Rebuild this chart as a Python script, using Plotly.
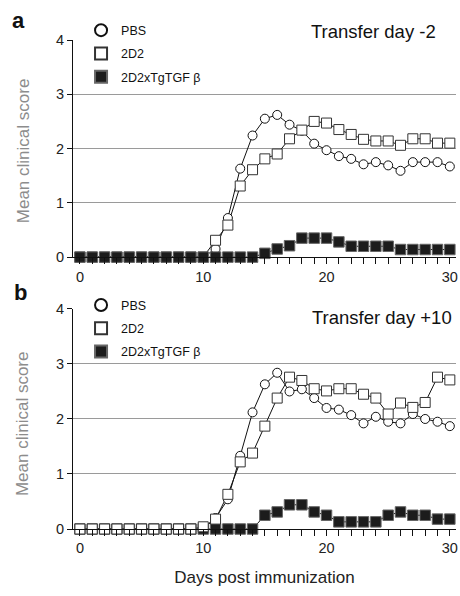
import plotly.graph_objects as go

days = list(range(0, 31))

# Panel a: Transfer day -2
a_pbs = [0]*11 + [0.15, 0.72, 1.63, 2.24, 2.55, 2.62, 2.44, 2.33, 2.09, 1.97,
                  1.86, 1.81, 1.71, 1.75, 1.69, 1.59, 1.75, 1.75, 1.75, 1.67]
a_2d2 = [0]*11 + [0.31, 0.59, 1.31, 1.61, 1.81, 1.90, 2.18, 2.34, 2.50, 2.47,
                  2.35, 2.26, 2.17, 2.14, 2.14, 2.06, 2.18, 2.18, 2.10, 2.10]
a_tg = [0]*15 + [0.07, 0.15, 0.21, 0.35, 0.35, 0.35, 0.28, 0.20, 0.20, 0.20,
                 0.20, 0.14, 0.14, 0.14, 0.14, 0.14]

# Panel b: Transfer day +10
b_pbs = [0]*11 + [0.20, 0.54, 1.33, 2.12, 2.63, 2.84, 2.50, 2.54, 2.38, 2.20,
                  2.17, 2.07, 1.92, 2.04, 1.95, 1.92, 2.09, 2.00, 1.95, 1.87]
b_2d2 = [0]*10 + [0.04, 0.18, 0.63, 1.22, 1.38, 1.87, 2.38, 2.76, 2.70, 2.55, 2.51,
                  2.55, 2.55, 2.45, 2.38, 2.09, 2.29, 2.21, 2.30, 2.76, 2.71]
b_tg = [0]*15 + [0.25, 0.31, 0.44, 0.44, 0.31, 0.25, 0.13, 0.13, 0.13, 0.13,
                 0.25, 0.31, 0.25, 0.25, 0.18, 0.18]

names = ["PBS", "2D2", "2D2xTgTGF β"]
x_ticks = [0, 10, 20, 30]
y_ticks = [0, 1, 2, 3, 4]

FONT = "Liberation Sans, Arial, sans-serif"

styles = {
    "PBS": dict(symbol="circle", size=9, color="white", line=dict(color="#111", width=1)),
    "2D2": dict(symbol="square", size=10, color="white", line=dict(color="#333", width=1)),
    "2D2xTgTGF β": dict(symbol="square", size=10.5, color="#1c1c1c", line=dict(color="#666", width=1)),
}

fig = go.Figure()

panels = [
    ("x", "y", "legend", [("PBS", a_pbs), ("2D2", a_2d2), ("2D2xTgTGF β", a_tg)]),
    ("x2", "y2", "legend2", [("PBS", b_pbs), ("2D2xTgTGF β", b_tg), ("2D2", b_2d2)]),
]

for xa, ya, lg, series in panels:
    for name, vals in series:
        fig.add_trace(go.Scatter(x=days, y=vals, mode="lines", xaxis=xa, yaxis=ya,
                                 line=dict(color="#111", width=1), showlegend=False,
                                 cliponaxis=False, hoverinfo="skip"))
    order = {n: i for i, n in enumerate(names)}
    for name, vals in series:
        fig.add_trace(go.Scatter(x=days, y=vals, mode="markers", xaxis=xa, yaxis=ya,
                                 name=name, marker=styles[name], legend=lg,
                                 legendgroup=lg + name, legendrank=order[name] + 1,
                                 cliponaxis=False))

xcommon = dict(range=[-0.56, 30.5], tickvals=x_ticks, ticks="outside", ticklen=6,
               tickcolor="#111", showline=True, linecolor="#111", linewidth=1,
               showgrid=False, zeroline=False,
               minor=dict(dtick=1, tick0=0, ticks="outside", ticklen=6, tickcolor="#111"),
               tickfont=dict(size=14.5, color="#222", family=FONT))
ycommon = dict(range=[0, 4], tickvals=y_ticks, ticks="outside", ticklen=5,
               tickcolor="#111", showline=True, linecolor="#111", linewidth=1,
               showgrid=True, gridcolor="#9a9a9a", gridwidth=1, zeroline=False,
               tickfont=dict(size=14.5, color="#222", family=FONT))

legcommon = dict(font=dict(size=12.5, family=FONT, color="#111"), bgcolor="rgba(0,0,0,0)",
                 itemsizing="constant", tracegroupgap=4, xanchor="left", yanchor="top",
                 traceorder="grouped", itemclick=False)

fig.update_layout(
    width=460, height=596,
    margin=dict(l=73, r=2, t=40, b=67),
    paper_bgcolor="white", plot_bgcolor="white",
    font=dict(family=FONT, color="#111"),
    xaxis=dict(anchor="y", domain=[0, 1], **xcommon),
    yaxis=dict(anchor="x", domain=[0.556, 1], **ycommon),
    xaxis2=dict(anchor="y2", domain=[0, 1],
                title=dict(text="Days post immunization", font=dict(size=17, color="#222"), standoff=15),
                **xcommon),
    yaxis2=dict(anchor="x2", domain=[0, 0.45], **ycommon),
    legend=dict(x=0.021, y=1.05, **legcommon),
    legend2=dict(x=0.021, y=0.488, **legcommon),
    showlegend=True,
    annotations=[
        dict(text="Transfer day -2", x=0.952, y=1.0, xref="paper", yref="paper",
             xanchor="right", yanchor="middle", yshift=9, showarrow=False,
             font=dict(size=18.5, color="#111")),
        dict(text="Transfer day +10", x=0.996, y=0.45, xref="paper", yref="paper",
             xanchor="right", yanchor="middle", yshift=-9, showarrow=False,
             font=dict(size=18.5, color="#111")),
        dict(text="<b>a</b>", x=-0.142, y=1.0, xref="paper", yref="paper", xanchor="center",
             yanchor="middle", yshift=20, showarrow=False,
             font=dict(size=22, color="#111")),
        dict(text="<b>b</b>", x=-0.138, y=0.45, xref="paper", yref="paper", xanchor="center",
             yanchor="middle", yshift=16, showarrow=False,
             font=dict(size=22, color="#111")),
        dict(text="Mean clinical score", x=-0.13, y=0.773, xref="paper", yref="paper",
             xanchor="center", yanchor="middle",
             textangle=-90, showarrow=False, font=dict(size=17, color="#8c8c8c")),
        dict(text="Mean clinical score", x=-0.13, y=0.215, xref="paper", yref="paper",
             xanchor="center", yanchor="middle",
             textangle=-90, showarrow=False, font=dict(size=17, color="#8c8c8c")),
    ],
)

fig.write_html("out.html", config={"displayModeBar": False},
               post_script="document.body.style.margin='0';")
